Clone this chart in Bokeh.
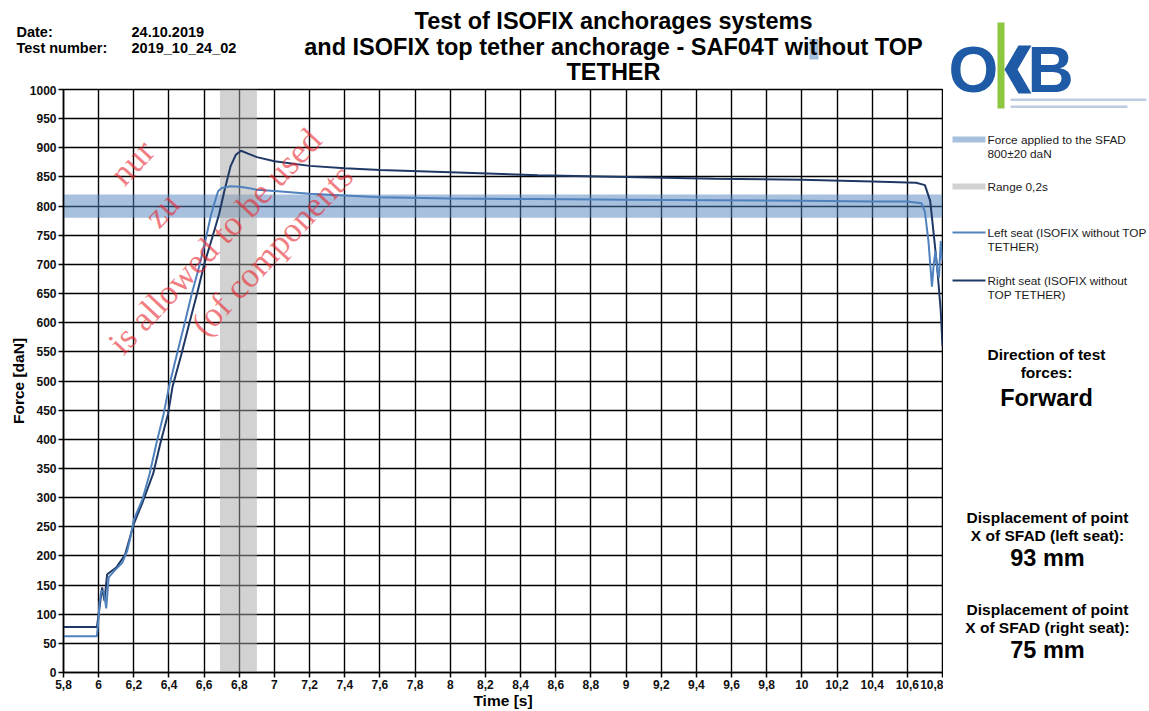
from bokeh.plotting import figure
from bokeh.layouts import row, column
from bokeh.models import Range1d, FixedTicker, CustomJSTickFormatter
from bokeh.core.properties import value
from bokeh.embed import file_html
from bokeh.resources import INLINE

# ---------------- data ----------------
LEFT_T = [5.80, 5.99, 6.00, 6.005, 6.015, 6.03, 6.043, 6.057, 6.085, 6.134, 6.162, 6.18,
          6.20, 6.25, 6.29, 6.33, 6.37, 6.40, 6.45, 6.49, 6.53, 6.575, 6.61, 6.64, 6.665,
          6.68, 6.70, 6.75, 6.80, 6.85, 6.90, 7.00, 7.20, 7.40, 7.60, 8.00, 8.50, 9.00,
          9.50, 10.00, 10.40, 10.60, 10.68, 10.70, 10.72, 10.74, 10.75, 10.76, 10.77,
          10.78, 10.79, 10.80]
LEFT_F = [62, 62, 95, 120, 140, 138, 110, 163, 173, 188, 208, 231,
          262, 298, 341, 395, 444, 490, 552, 600, 650, 700, 745, 786, 812,
          826, 831, 834, 833, 831, 828, 826, 821, 818, 815, 813, 812, 811,
          810, 809, 808, 808, 805, 790, 740, 662, 700, 723, 690,
          677, 740, 706]

RIGHT_T = [5.80, 5.99, 6.00, 6.02, 6.033, 6.048, 6.06, 6.10, 6.15, 6.20, 6.25, 6.31,
           6.35, 6.395, 6.42, 6.47, 6.515, 6.56, 6.60, 6.645, 6.685, 6.715, 6.75, 6.78,
           6.81, 6.85, 6.90, 7.00, 7.20, 7.40, 7.60, 8.00, 8.50, 9.00, 9.50, 10.00,
           10.40, 10.65, 10.70, 10.73, 10.75, 10.77, 10.79, 10.80]
RIGHT_F = [78, 78, 100, 146, 123, 168, 171, 180, 202, 255, 292, 341,
           392, 444, 490, 545, 598, 650, 700, 745, 786, 826, 868, 888,
           895, 890, 884, 877, 869, 865, 862, 858, 853, 850, 847, 845,
           842, 840, 836, 809, 752, 694, 620, 560]

SFAD_FORCE = 800          # daN
SFAD_TOL = 20             # daN
RANGE_T = [6.69, 6.90]    # s, range 0,2 s around the peak

X_TICKS = [5.8, 6.0, 6.2, 6.4, 6.6, 6.8, 7.0, 7.2, 7.4, 7.6, 7.8, 8.0, 8.2, 8.4, 8.6,
           8.8, 9.0, 9.2, 9.4, 9.6, 9.8, 10.0, 10.2, 10.4, 10.6, 10.8]
X_TICK_LABELS = ["5,8", "6", "6,2", "6,4", "6,6", "6,8", "7", "7,2", "7,4", "7,6", "7,8",
                 "8", "8,2", "8,4", "8,6", "8,8", "9", "9,2", "9,4", "9,6", "9,8", "10",
                 "10,2", "10,4", "10,6", "10,8"]
Y_TICKS = [0, 50, 100, 150, 200, 250, 300, 350, 400, 450, 500, 550, 600, 650, 700,
           750, 800, 850, 900, 950, 1000]

LEGEND_LABELS = [["Force applied to the SFAD", "800±20 daN"],
                 ["Range 0,2s"],
                 ["Left seat (ISOFIX without TOP", "TETHER)"],
                 ["Right seat (ISOFIX without", "TOP TETHER)"]]

X_MIN, X_MAX = 5.8, 10.8
Y_MIN, Y_MAX = 0, 1000

# ---------------- page layout (pixels) ----------------
PAGE_W, PAGE_H = 1149, 711
TOP_H = 85                 # header strip height
MAIN_W = 943               # chart figure width
SIDE_W = PAGE_W - MAIN_W   # right column width
BL, BR, BT, BB = 63, 1, 4, 38
FRAME_L = BL
FRAME_T = TOP_H + BT
FRAME_W = MAIN_W - BL - BR
FRAME_H = (PAGE_H - TOP_H) - BT - BB

FONT = "Liberation Sans"
SERIF = "Liberation Serif"
BLUE = "#4f81bd"
NAVY = "#1f3864"
GREY = "#a6a6a6"


def no_align(f):
    try:
        f.frame_align = False
    except Exception:
        pass


def put_text(fig, text, x, y, size, align="left", bold=True, color="black", font=FONT,
             angle=0.0, alpha=1.0, baseline="middle"):
    fig.text(x=[x], y=[y], text=[text], text_font=value(font),
             text_font_size=value(size),
             text_font_style=value("bold" if bold else "normal"),
             text_align=value(align), text_baseline=value(baseline),
             text_color=value(color), text_alpha=alpha, angle=angle)


def blank_fig(w, h, x0, x1, y0, y1):
    f = figure(width=w, height=h, output_backend="svg", toolbar_location=None,
               x_range=Range1d(x0, x1), y_range=Range1d(y1, y0),
               x_axis_type=None, y_axis_type=None, min_border=0)
    f.outline_line_color = None
    f.grid.visible = False
    f.background_fill_color = "white"
    f.border_fill_color = "white"
    no_align(f)
    return f


# ================= main chart =================
p = figure(width=MAIN_W, height=PAGE_H - TOP_H, output_backend="svg",
           toolbar_location=None,
           x_range=Range1d(X_MIN, X_MAX), y_range=Range1d(Y_MIN, Y_MAX),
           min_border_left=BL, min_border_right=BR, min_border_top=BT,
           min_border_bottom=BB)
no_align(p)
p.background_fill_color = "white"
p.border_fill_color = "white"
p.outline_line_color = "black"
p.outline_line_width = 1.5

p.xaxis.ticker = FixedTicker(ticks=X_TICKS)
p.xaxis.formatter = CustomJSTickFormatter(
    args=dict(xt=X_TICKS, xl=X_TICK_LABELS),
    code="""
const i = xt.findIndex((t) => Math.abs(t - tick) < 1e-6);
return i >= 0 ? xl[i] : '';
""")
p.yaxis.ticker = FixedTicker(ticks=Y_TICKS)
p.xaxis.axis_label = "Time [s]"
p.yaxis.axis_label = "Force [daN]"
for ax in (p.xaxis[0], p.yaxis[0]):
    ax.axis_line_color = "black"
    ax.axis_line_width = 1.5
    ax.major_tick_line_color = "black"
    ax.major_tick_line_width = 1.5
    ax.major_tick_out = 5
    ax.major_tick_in = 0
    ax.minor_tick_line_color = None
    ax.major_label_text_font = FONT
    ax.major_label_text_font_style = "bold"
    ax.major_label_text_font_size = "12px"
    ax.major_label_text_color = "#111111"
    ax.major_label_standoff = 2
    ax.axis_label_text_font = FONT
    ax.axis_label_text_font_style = "bold"
    ax.axis_label_text_font_size = "15.5px"
    ax.axis_label_text_color = "black"
    ax.axis_label_standoff = 0
for g in (p.xgrid[0], p.ygrid[0]):
    g.grid_line_color = "black"
    g.grid_line_width = 1.4

band = p.quad(left=[X_MIN], right=[X_MAX], bottom=[SFAD_FORCE - SFAD_TOL],
              top=[SFAD_FORCE + SFAD_TOL], fill_color=BLUE, fill_alpha=0.5,
              line_color=None)
rng = p.quad(left=[RANGE_T[0]], right=[RANGE_T[1]], bottom=[Y_MIN], top=[Y_MAX],
             fill_color=GREY, fill_alpha=0.5, line_color=None)
right = p.line(RIGHT_T, RIGHT_F, line_color=NAVY, line_width=2)
left = p.line(LEFT_T, LEFT_F, line_color=BLUE, line_width=2)


def tx(px):
    return X_MIN + (px - FRAME_L) * (X_MAX - X_MIN) / FRAME_W


def vy(py):
    return Y_MAX - (py - FRAME_T) * (Y_MAX - Y_MIN) / FRAME_H


# watermark fragments of the report stamp (inside the plot area)
WM = "#e8262e"
WM_ANGLE = 0.82
WM_FRAGMENTS = [("nur", 115.7, 179.2), ("zu", 150, 222),
                ("is allowed to be used", 114.4, 348.6),
                ("(of components", 197, 330)]
for txt, px, py in WM_FRAGMENTS:
    put_text(p, txt, tx(px), vy(py), "35px", bold=False, color=WM, font=SERIF,
             angle=WM_ANGLE, alpha=0.6, baseline="alphabetic")

# ================= header strip =================
top = blank_fig(MAIN_W, TOP_H, 0, MAIN_W, 0, TOP_H)
put_text(top, "Date:", 16, 31, "14.5px")
put_text(top, "24.10.2019", 131, 31, "14.5px")
put_text(top, "Test number:", 16, 47, "14.5px")
put_text(top, "2019_10_24_02", 131, 47, "14.5px")
top.quad(left=[809], right=[818], top=[38.5], bottom=[59], fill_color="#8fb0d3",
         fill_alpha=0.8, line_color=None)
put_text(top, "Test of ISOFIX anchorages systems", 613, 20.5, "23.5px", align="center")
put_text(top, "and ISOFIX top tether anchorage - SAF04T without TOP", 613, 46.5,
         "23.5px", align="center")
put_text(top, "TETHER", 613, 71.8, "23.5px", align="center")

# ================= right column =================
side = blank_fig(SIDE_W, PAGE_H, MAIN_W, PAGE_W, 0, PAGE_H)

# logo
LOGO_BLUE = "#1e5aa5"
put_text(side, "O", 973, 69, "64px", align="center", color=LOGO_BLUE)
side.quad(left=[997], right=[1004], top=[22], bottom=[108], fill_color="#8dc63f",
          line_color=None)
side.patch([1004, 1018, 1031, 1017, 1031, 1018], [69, 45, 45, 69, 93, 93],
           fill_color=LOGO_BLUE, line_color=None)
put_text(side, "B", 1027, 69, "64px", color=LOGO_BLUE)
side.quad(left=[1010, 1010], right=[1146, 1127], top=[98, 105],
          bottom=[100.5, 107.5], fill_color="#7d98c4", fill_alpha=0.5, line_color=None)

# legend
LEG_SAMPLES = [(BLUE, 0.5, 6), (GREY, 0.5, 6), (BLUE, 1.0, 2), (NAVY, 1.0, 2)]
LEG_Y = [139, 186, 232, 280]
for (col, a, th), y0, lines in zip(LEG_SAMPLES, LEG_Y, LEGEND_LABELS):
    side.quad(left=[952], right=[985], top=[y0 - th / 2], bottom=[y0 + th / 2],
              fill_color=col, fill_alpha=a, line_color=None)
    for k, line in enumerate(lines):
        put_text(side, line, 987, y0 + 14 * k, "11.8px", bold=False, color="#1a1a1a")

# notes
put_text(side, "Direction of test", 1046, 354, "15.5px", align="center")
put_text(side, "forces:", 1046, 372, "15.5px", align="center")
put_text(side, "Forward", 1046, 397, "23.5px", align="center")
put_text(side, "Displacement of point", 1047, 517, "15.5px", align="center")
put_text(side, "X of SFAD (left seat):", 1047, 535, "15.5px", align="center")
put_text(side, "93 mm", 1047, 557, "23.5px", align="center")
put_text(side, "Displacement of point", 1047, 609, "15.5px", align="center")
put_text(side, "X of SFAD (right seat):", 1047, 627, "15.5px", align="center")
put_text(side, "75 mm", 1047, 649, "23.5px", align="center")

layout = row(column(top, p, spacing=0), side, spacing=0)
open("out.html", "w").write(file_html(layout, INLINE))
